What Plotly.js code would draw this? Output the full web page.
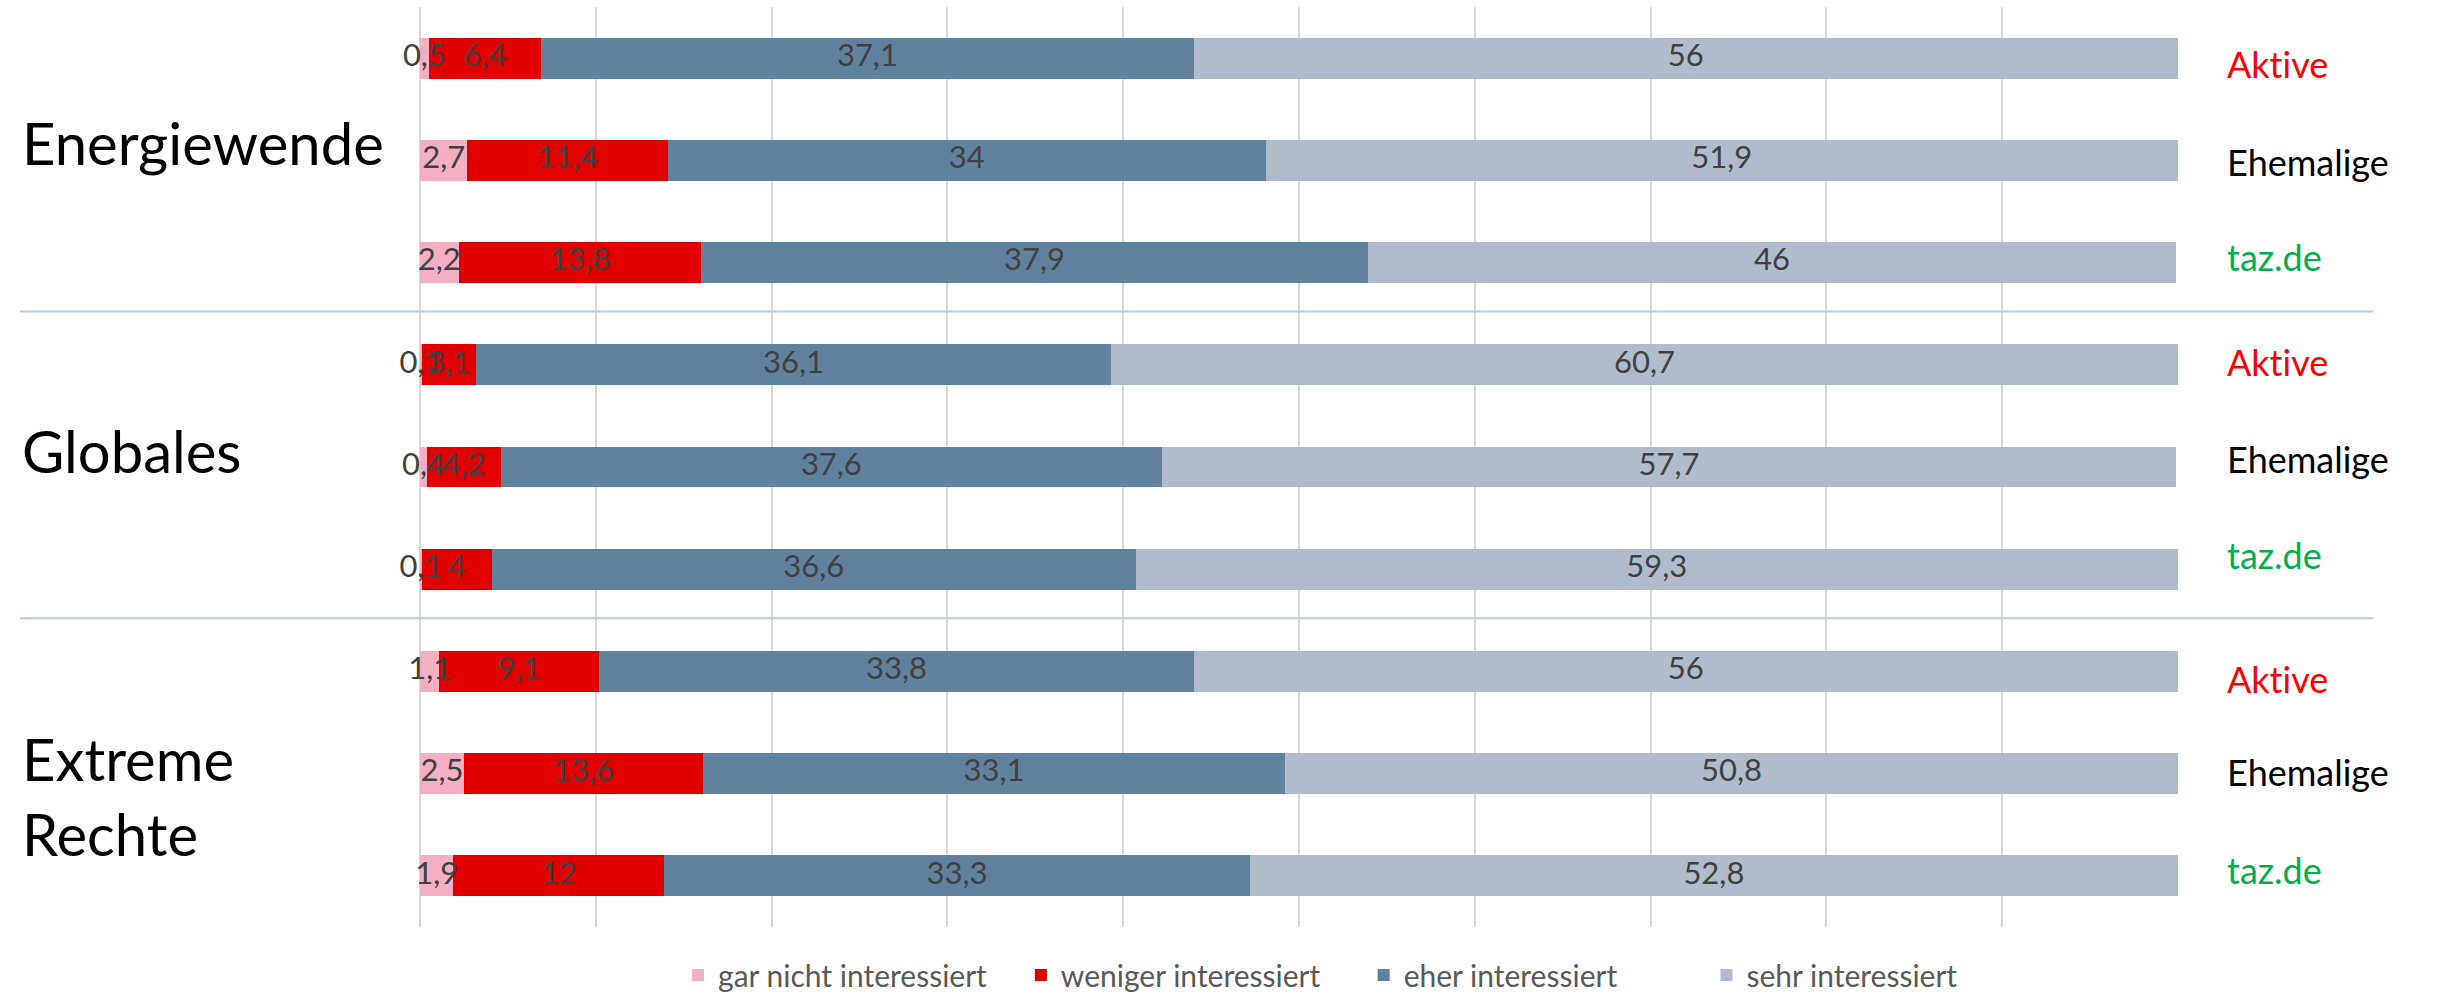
<!DOCTYPE html>
<html><head><meta charset="utf-8">
<script src="https://cdn.plot.ly/plotly-3.0.1.min.js"></script>
<style>html,body{margin:0;padding:0;background:#fff;}#chart{width:2453px;height:999px;} text{font-variant-ligatures:none;font-feature-settings:"liga" 0;}</style>
</head><body><div id="chart"></div>
<script>
// Data
const groups = ['Energiewende', 'Globales', 'Extreme<br>Rechte'];
const audiences = ['Aktive', 'Ehemalige', 'taz.de'];
const audienceColors = ['#ff0000', '#000000', '#00b050'];
const seriesNames = ['gar nicht interessiert', 'weniger interessiert', 'eher interessiert', 'sehr interessiert'];
const seriesColors = ['#f4afc3', '#e00000', '#61829e', '#b0bccb'];
// rows: Energiewende (Aktive, Ehemalige, taz.de), Globales (...), Extreme Rechte (...)
const garNicht = [0.5, 2.7, 2.2, 0.1, 0.4, 0.1, 1.1, 2.5, 1.9];
const weniger  = [6.4, 11.4, 13.8, 3.1, 4.2, 4, 9.1, 13.6, 12];
const eher     = [37.1, 34, 37.9, 36.1, 37.6, 36.6, 33.8, 33.1, 33.3];
const sehr     = [56, 51.9, 46, 60.7, 57.7, 59.3, 56, 50.8, 52.8];

const rowKeys = [];
groups.forEach((g, gi) => audiences.forEach((a, ai) => rowKeys.push(gi * 3 + ai)));
const allSeries = [garNicht, weniger, eher, sehr];
const fmt = v => String(v).replace('.', ',');

const FONT = 'Lato, Carlito, "Open Sans", sans-serif';

const barTraces = allSeries.map((vals, si) => ({
  type: 'bar',
  orientation: 'h',
  name: seriesNames[si],
  x: vals,
  y: rowKeys,
  width: 0.4,
  marker: {color: seriesColors[si], line: {width: 0}},
  hoverinfo: 'x+name'
}));

// value labels drawn above all bars, centred in each segment
const cum = rowKeys.map(() => 0);
const labelTraces = allSeries.map((vals, si) => {
  const xs = vals.map((v, i) => cum[i] + v / 2);
  vals.forEach((v, i) => { cum[i] += v; });
  return {
    type: 'scatter', mode: 'text', x: xs, y: rowKeys,
    text: vals.map(fmt), textposition: 'middle center',
    textfont: {family: FONT, size: 31, color: '#404040'},
    showlegend: false, hoverinfo: 'skip', cliponaxis: false
  };
});

const annotations = [];
// group labels on the left
const groupYShift = [18, 17, -22];
groups.forEach((g, gi) => {
  annotations.push({
    text: g, xref: 'paper', yref: 'y', x: -0.2275, y: gi * 3 + 1,
    xanchor: 'left', yanchor: 'middle', yshift: groupYShift[gi],
    showarrow: false, align: 'left',
    font: {family: FONT, size: 58, color: '#000000'}
  });
});
// audience labels on the right
const rightYShift = [-6, -1.5, 6, 3, 8, 14, -8, 2, 6];
rowKeys.forEach((r, i) => {
  const ai = i % 3;
  annotations.push({
    text: audiences[ai], xref: 'paper', yref: 'y', x: 1.0265, y: r,
    xanchor: 'left', yanchor: 'middle', yshift: rightYShift[i],
    showarrow: false,
    font: {family: FONT, size: 36, color: audienceColors[ai]}
  });
});

// separators between groups
const shapes = [1, 2].map(k => ({
  type: 'line', xref: 'paper', yref: 'y',
  x0: -0.2275, x1: 1.111, y0: k * 3 - 0.52, y1: k * 3 - 0.52,
  line: {color: '#bccada', width: 2}
}));

const layout = {
  width: 2453, height: 999,
  margin: {l: 420, r: 275, t: 7, b: 72, pad: 0, autoexpand: false},
  paper_bgcolor: '#ffffff', plot_bgcolor: '#ffffff',
  barmode: 'stack',
  showlegend: true,
  legend: {
    orientation: 'h', x: 0.537, xanchor: 'center',
    yref: 'container', y: 0.024, yanchor: 'middle',
    font: {family: FONT, size: 30, color: '#595959'},
    traceorder: 'normal', entrywidth: 0.195, entrywidthmode: 'fraction'
  },
  xaxis: {
    range: [0, 100], dtick: 10, tick0: 0,
    showgrid: true, gridcolor: '#d9d9d9', gridwidth: 2,
    zeroline: true, zerolinecolor: '#d9d9d9', zerolinewidth: 2,
    showticklabels: false, showline: false, ticks: '', fixedrange: true
  },
  yaxis: {
    range: [8.5, -0.5], showgrid: false, zeroline: false,
    showticklabels: false, ticks: '', showline: false, fixedrange: true
  },
  annotations: annotations,
  shapes: shapes
};

Plotly.newPlot('chart', barTraces.concat(labelTraces), layout, {displayModeBar: false, staticPlot: true});
</script>
</body></html>
